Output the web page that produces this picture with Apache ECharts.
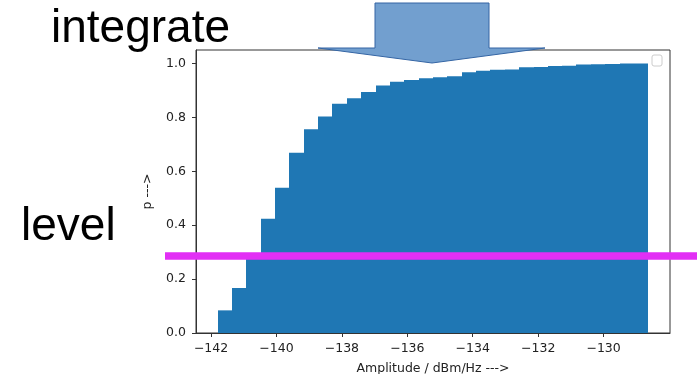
<!DOCTYPE html>
<html>
<head>
<meta charset="utf-8">
<script src="https://cdn.jsdelivr.net/npm/echarts@6/dist/echarts.min.js"></script>
<style>
  html, body { margin: 0; padding: 0; background: #fff; }
  #main { width: 697px; height: 374px; }
</style>
</head>
<body>
<div id="main"></div>
<script>
// bin edges of the cumulative histogram (dBm/Hz)
var binEdges = [-141.80, -141.36, -140.92, -140.48, -140.04, -139.61, -139.17, -138.73,
  -138.29, -137.85, -137.41, -136.97, -136.53, -136.09, -135.65, -135.22, -134.78,
  -134.34, -133.90, -133.46, -133.02, -132.58, -132.14, -131.70, -131.26, -130.83,
  -130.39, -129.95, -129.51, -129.07, -128.63];
// cumulative probability per bin
var cumProb = [0.084, 0.167, 0.28, 0.424, 0.539, 0.669, 0.756, 0.803, 0.851, 0.871,
  0.894, 0.918, 0.932, 0.939, 0.945, 0.949, 0.953, 0.967, 0.973, 0.977,
  0.978, 0.986, 0.987, 0.991, 0.992, 0.996, 0.997, 0.998, 1.0, 1.0];
var xTicks = [-142, -140, -138, -136, -134, -132, -130];
var yTicks = [0, 0.2, 0.4, 0.6, 0.8, 1.0];
var level = 0.286;

var bars = [];
for (var i = 0; i < cumProb.length; i++) {
  bars.push([binEdges[i], binEdges[i + 1], cumProb[i]]);
}

var tickFont = { fontFamily: 'DejaVu Sans', fontSize: 12.5, color: '#222' };

var myChart = echarts.init(document.getElementById('main'));
myChart.setOption({
  animation: false,
  grid: {
    left: 196, right: 27, top: 50, bottom: 41,
    show: true, borderColor: '#333', borderWidth: 1,
    outerBoundsMode: 'none'
  },
  xAxis: {
    type: 'value',
    min: -142.46,
    max: -127.97,
    name: 'Amplitude / dBm/Hz --->',
    nameLocation: 'middle',
    nameGap: 29,
    nameTextStyle: tickFont,
    axisLine: { show: true, onZero: false, lineStyle: { color: '#333' } },
    axisTick: { show: true, length: 4, customValues: xTicks, lineStyle: { color: '#333' } },
    axisLabel: Object.assign({
      margin: 9,
      customValues: xTicks,
      formatter: function (v) { return String(v).replace('-', '\u2212'); }
    }, tickFont),
    splitLine: { show: false }
  },
  yAxis: {
    type: 'value',
    min: 0,
    max: 1.05,
    name: 'p --->',
    nameLocation: 'middle',
    nameGap: 42,
    nameTextStyle: tickFont,
    axisLine: { show: true, lineStyle: { color: '#333' } },
    axisTick: { show: true, length: 4, customValues: yTicks, lineStyle: { color: '#333' } },
    axisLabel: Object.assign({
      margin: 10,
      customValues: yTicks,
      formatter: function (v) { return v.toFixed(1); }
    }, tickFont),
    splitLine: { show: false }
  },
  series: [{
    type: 'custom',
    data: bars,
    renderItem: function (params, api) {
      var p0 = api.coord([api.value(0), api.value(2)]);
      var p1 = api.coord([api.value(1), 0]);
      var x0 = Math.round(p0[0]);
      var x1 = Math.round(p1[0]);
      return {
        type: 'rect',
        shape: { x: x0, y: p0[1], width: x1 - x0, height: p1[1] - p0[1] },
        style: { fill: '#1f77b4' }
      };
    }
  }]
});

// annotations drawn over the plot
var levelY = myChart.convertToPixel({ gridIndex: 0 }, [-135, level])[1];
myChart.setOption({
  graphic: [
    {
      type: 'rect', z: 100,
      shape: { x: 652, y: 55, width: 10, height: 11, r: 2 },
      style: { fill: '#fff', stroke: '#ccc', lineWidth: 1 }
    },
    {
      type: 'rect', z: 100,
      shape: { x: 165, y: levelY - 3.7, width: 532, height: 7.5 },
      style: { fill: '#e22ff5' }
    },
    {
      type: 'polygon', z: 100,
      shape: { points: [[375, 3], [489, 3], [489, 48], [545, 48], [432, 63], [318, 48], [375, 48]] },
      style: { fill: '#729fcf', stroke: '#3465a4', lineWidth: 1 }
    },
    {
      type: 'text', z: 100, x: 51, y: 29,
      style: { text: 'integrate', font: '46px "Liberation Sans"', fill: '#000', verticalAlign: 'middle' }
    },
    {
      type: 'text', z: 100, x: 21, y: 227,
      style: { text: 'level', font: '46px "Liberation Sans"', fill: '#000', verticalAlign: 'middle' }
    }
  ]
});
</script>
</body>
</html>
